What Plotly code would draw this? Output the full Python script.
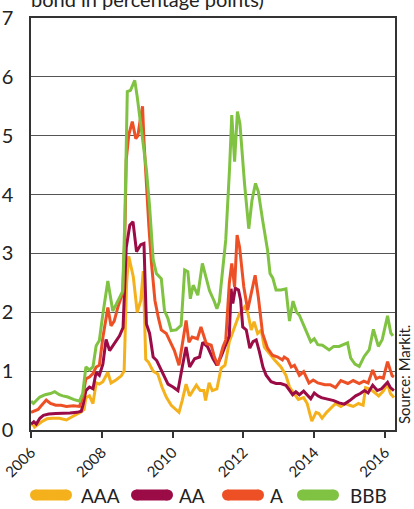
import plotly.graph_objects as go

# ---- data (decimal years, spread in percentage points) ----
aaa_t = [2006.0, 2006.05, 2006.1, 2006.2, 2006.3, 2006.45, 2006.6, 2006.8, 2007.0, 2007.15, 2007.3, 2007.4,
         2007.5, 2007.55, 2007.65, 2007.75, 2007.84, 2007.93, 2008.03, 2008.17, 2008.26, 2008.4, 2008.55, 2008.63,
         2008.7, 2008.76, 2008.89, 2009.0, 2009.1, 2009.17, 2009.24, 2009.32, 2009.45, 2009.58, 2009.7, 2009.82,
         2009.96, 2010.1, 2010.18, 2010.27, 2010.38, 2010.48, 2010.6, 2010.67, 2010.78, 2010.88, 2010.93, 2011.03,
         2011.12, 2011.25, 2011.37, 2011.48, 2011.6, 2011.75, 2011.89, 2012.03, 2012.12, 2012.22, 2012.3, 2012.4,
         2012.5, 2012.59, 2012.73, 2012.88, 2013.06, 2013.2, 2013.3, 2013.42, 2013.55, 2013.7, 2013.8, 2013.93,
         2014.05, 2014.13, 2014.22, 2014.35, 2014.5, 2014.6, 2014.75, 2014.88, 2015.0, 2015.1, 2015.25, 2015.38,
         2015.45, 2015.55, 2015.68, 2015.82, 2015.95, 2016.07, 2016.15, 2016.25]
aaa_v = [0.08, 0.1, 0.05, 0.1, 0.14, 0.19, 0.2, 0.2, 0.17, 0.22, 0.27, 0.3,
         0.35, 0.55, 0.58, 0.45, 0.8, 0.78, 0.82, 0.98, 0.8, 0.85, 0.92, 1.0,
         2.5, 2.95, 2.6, 2.0, 2.2, 2.7, 1.2, 1.15, 1.0, 0.95, 0.73, 0.56,
         0.42, 0.35, 0.3, 0.5, 0.78, 0.58, 0.7, 0.76, 0.67, 0.67, 0.5, 0.8,
         0.67, 0.7, 1.05, 1.1, 1.5, 1.75, 1.98, 2.09, 2.0, 1.7, 1.84, 1.64,
         1.7, 1.41, 1.3, 1.19, 1.07, 0.93, 0.73, 0.62, 0.52, 0.55, 0.45, 0.15,
         0.3, 0.28, 0.2, 0.3, 0.38, 0.45, 0.4, 0.45, 0.42, 0.4, 0.45, 0.42,
         0.72, 0.7, 0.65, 0.58, 0.66, 0.78, 0.62, 0.55]

aa_t = [2006.0, 2006.08, 2006.15, 2006.25, 2006.35, 2006.5, 2006.7, 2006.9, 2007.1, 2007.3, 2007.42, 2007.48,
        2007.55, 2007.65, 2007.75, 2007.84, 2007.93, 2008.03, 2008.12, 2008.22, 2008.3, 2008.4, 2008.5, 2008.6,
        2008.69, 2008.79, 2008.88, 2008.98, 2009.1, 2009.19, 2009.26, 2009.35, 2009.45, 2009.55, 2009.68, 2009.77,
        2009.87, 2010.01, 2010.15, 2010.29, 2010.38, 2010.48, 2010.62, 2010.76, 2010.85, 2010.99, 2011.14, 2011.25,
        2011.37, 2011.5, 2011.6, 2011.65, 2011.7, 2011.77, 2011.86, 2011.92, 2011.98, 2012.08, 2012.18, 2012.27,
        2012.36, 2012.45, 2012.55, 2012.64, 2012.78, 2012.92, 2013.05, 2013.2, 2013.3, 2013.39, 2013.48, 2013.58,
        2013.7, 2013.8, 2013.9, 2014.0, 2014.1, 2014.2, 2014.4, 2014.55, 2014.7, 2014.85, 2015.0, 2015.17,
        2015.3, 2015.42, 2015.52, 2015.65, 2015.78, 2015.9, 2016.07, 2016.15, 2016.25]
aa_v = [0.1, 0.14, 0.1, 0.2, 0.25, 0.27, 0.28, 0.28, 0.29, 0.3, 0.32, 0.45,
        0.67, 0.73, 0.7, 0.98, 0.93, 1.12, 1.54, 1.35, 1.42, 1.52, 1.6, 1.74,
        3.1, 3.48, 3.54, 3.03, 3.15, 3.17, 1.8, 1.64, 1.24, 1.18, 1.01, 0.9,
        0.78, 0.73, 0.67, 1.13, 1.41, 1.07, 1.21, 1.24, 1.49, 1.41, 1.21, 1.1,
        1.25, 1.45, 1.6, 2.4, 2.15, 2.41, 2.38, 2.21, 1.75, 1.7, 1.39, 1.5,
        1.53, 1.33, 1.07, 0.93, 0.82, 0.79, 0.79, 0.76, 0.67, 0.6, 0.65, 0.6,
        0.66, 0.6, 0.53, 0.63, 0.58, 0.55, 0.52, 0.5, 0.46, 0.44, 0.5, 0.58,
        0.62, 0.67, 0.63, 0.76, 0.67, 0.7, 0.81, 0.72, 0.67]

a_t = [2006.0, 2006.1, 2006.2, 2006.3, 2006.43, 2006.55, 2006.7, 2006.85, 2007.0, 2007.2, 2007.37, 2007.46,
       2007.55, 2007.65, 2007.75, 2007.84, 2007.93, 2008.03, 2008.17, 2008.26, 2008.35, 2008.45, 2008.59, 2008.65,
       2008.69, 2008.76, 2008.86, 2008.96, 2009.02, 2009.07, 2009.15, 2009.19, 2009.26, 2009.33, 2009.4, 2009.5,
       2009.6, 2009.68, 2009.82, 2009.96, 2010.05, 2010.18, 2010.27, 2010.38, 2010.46, 2010.55, 2010.7, 2010.8,
       2010.95, 2011.09, 2011.18, 2011.28, 2011.42, 2011.5, 2011.6, 2011.67, 2011.75, 2011.82, 2011.89, 2012.01,
       2012.12, 2012.24, 2012.33, 2012.42, 2012.54, 2012.68, 2012.82, 2012.97, 2013.1, 2013.15, 2013.25, 2013.35,
       2013.44, 2013.58, 2013.7, 2013.85, 2013.97, 2014.1, 2014.3, 2014.45, 2014.6, 2014.75, 2014.95, 2015.1,
       2015.27, 2015.4, 2015.52, 2015.65, 2015.75, 2015.85, 2015.95, 2016.07, 2016.2, 2016.25]
a_v = [0.3, 0.33, 0.35, 0.42, 0.51, 0.45, 0.42, 0.42, 0.4, 0.41, 0.4, 0.56,
       0.87, 0.9, 0.96, 1.07, 1.1, 1.57, 2.08, 1.77, 1.85, 2.08, 2.33, 3.3,
       4.59, 5.01, 5.24, 4.95, 5.0, 5.21, 5.5, 4.92, 4.13, 3.45, 2.85, 2.2,
       1.9, 1.7, 1.64, 1.47, 1.35, 1.1, 1.47, 1.86, 1.49, 1.58, 1.55, 1.75,
       1.47, 1.44, 1.24, 1.1, 1.41, 1.53, 2.49, 2.83, 2.43, 3.31, 3.11, 2.43,
       2.04, 2.38, 2.63, 2.26, 1.64, 1.39, 1.27, 1.24, 1.19, 1.24, 1.2, 1.07,
       1.1, 0.93, 0.99, 0.8, 0.85, 0.8, 0.77, 0.77, 0.72, 0.84, 0.79, 0.84,
       0.79, 0.83, 0.8, 1.02, 0.87, 0.9, 0.88, 1.16, 0.92, 0.9]

bbb_t = [2006.0, 2006.07, 2006.15, 2006.25, 2006.4, 2006.55, 2006.67, 2006.8, 2006.9, 2007.04, 2007.2, 2007.37,
         2007.46, 2007.55, 2007.65, 2007.75, 2007.84, 2007.93, 2008.03, 2008.17, 2008.31, 2008.4, 2008.5, 2008.59,
         2008.65, 2008.72, 2008.81, 2008.93, 2009.0, 2009.07, 2009.16, 2009.26, 2009.35, 2009.45, 2009.54, 2009.68,
         2009.77, 2009.87, 2009.96, 2010.1, 2010.24, 2010.34, 2010.43, 2010.5, 2010.58, 2010.71, 2010.84, 2010.93,
         2011.04, 2011.18, 2011.25, 2011.32, 2011.41, 2011.5, 2011.61, 2011.67, 2011.75, 2011.83, 2011.9, 2012.03,
         2012.15, 2012.24, 2012.34, 2012.42, 2012.54, 2012.68, 2012.75, 2012.83, 2012.92, 2013.06, 2013.2, 2013.3,
         2013.4, 2013.5, 2013.58, 2013.75, 2013.9, 2014.0, 2014.1, 2014.23, 2014.42, 2014.55, 2014.7, 2014.94,
         2015.03, 2015.15, 2015.27, 2015.41, 2015.55, 2015.67, 2015.81, 2015.92, 2016.07, 2016.16, 2016.22]
bbb_v = [0.49, 0.45, 0.5, 0.56, 0.6, 0.62, 0.65, 0.6, 0.58, 0.56, 0.52, 0.49,
         0.62, 1.07, 1.02, 1.07, 1.43, 1.52, 1.97, 2.53, 2.02, 2.13, 2.25, 2.36,
         3.57, 5.75, 5.77, 5.94, 5.66, 5.32, 4.92, 4.42, 3.79, 2.9, 2.66, 2.57,
         2.03, 1.89, 1.69, 1.7, 1.78, 2.72, 2.69, 2.23, 2.46, 2.29, 2.83, 2.6,
         2.37, 2.18, 2.06, 2.18, 2.77, 3.23, 4.47, 5.35, 4.56, 5.41, 5.21, 4.19,
         3.42, 3.9, 4.19, 4.05, 3.57, 3.06, 2.66, 2.58, 2.38, 2.38, 2.4, 1.85,
         2.19, 2.0, 1.95, 1.7, 1.5, 1.55, 1.45, 1.44, 1.36, 1.42, 1.42, 1.48,
         1.22, 1.12, 1.08, 1.25, 1.36, 1.71, 1.42, 1.54, 1.94, 1.65, 1.6]

series_names = ["AAA", "AA", "A", "BBB"]
series_colors = ["#F4B11C", "#9B0B46", "#EE5026", "#80C242"]
x_ticks = [2006, 2008, 2010, 2012, 2014, 2016]
y_ticks = [0, 1, 2, 3, 4, 5, 6, 7]

FONT = "Lato, 'Noto Sans', sans-serif"
TXT = "#222222"

# figure geometry (pixels)
W, H = 414, 509
ML, MR, MT, MB = 31, 19, 18, 79
PW, PH = W - ML - MR, H - MT - MB


def px_x(p):
    return (p - ML) / PW


def px_y(p):
    return (H - MB - p) / PH


fig = go.Figure()
for name, color, t, v in zip(series_names, series_colors,
                             [aaa_t, aa_t, a_t, bbb_t], [aaa_v, aa_v, a_v, bbb_v]):
    fig.add_trace(go.Scatter(x=t, y=v, mode="lines", name=name,
                             line=dict(color=color, width=3), showlegend=False))

# manual legend: rounded thick swatches + labels
leg_y = px_y(495)
swatch_left = [30, 131, 222, 297]
swatch_len = 42
label_left = [79, 177, 268, 348]
shapes = []
annotations = []
r = 5.5
for name, color, sx, lx in zip(series_names, series_colors, swatch_left, label_left):
    cx = px_x(sx + swatch_len / 2)
    half = swatch_len / 2
    shapes.append(dict(type="rect", xref="paper", yref="paper", xsizemode="pixel", ysizemode="pixel",
                       xanchor=cx, yanchor=leg_y, x0=-half + r, x1=half - r, y0=-r, y1=r,
                       fillcolor=color, line=dict(width=0)))
    for end in (-half + r, half - r):
        shapes.append(dict(type="circle", xref="paper", yref="paper", xsizemode="pixel", ysizemode="pixel",
                           xanchor=cx, yanchor=leg_y, x0=end - r, x1=end + r, y0=-r, y1=r,
                           fillcolor=color, line=dict(width=0)))
    annotations.append(dict(text=name, xref="paper", yref="paper", x=px_x(lx), y=leg_y,
                            xanchor="left", yanchor="middle", showarrow=False,
                            font=dict(size=19, color=TXT)))

annotations.append(dict(text="bond in percentage points)", xref="paper", yref="paper",
                        x=px_x(29), y=px_y(-1), xanchor="left", yanchor="middle", showarrow=False,
                        font=dict(size=20, color=TXT)))
annotations.append(dict(text="Source: Markit.", xref="paper", yref="paper",
                        x=px_x(404), y=px_y(374), xanchor="center", yanchor="middle", textangle=-90,
                        showarrow=False, font=dict(size=15, color=TXT)))

fig.update_layout(
    width=W, height=H,
    margin=dict(l=ML, r=MR, t=MT, b=MB, autoexpand=False),
    paper_bgcolor="white", plot_bgcolor="white",
    font=dict(family=FONT, color=TXT),
    showlegend=False,
    xaxis=dict(range=[2006, 2016.28], tickvals=x_ticks, ticktext=[str(v) for v in x_ticks],
               tickangle=-45, tickfont=dict(size=15), ticks="outside", ticklen=6,
               tickcolor="#333333", tickwidth=1.5, showgrid=False, zeroline=False,
               ticklabeloverflow="allow",
               showline=True, linecolor="#333333", linewidth=1.5, mirror=True, automargin=False),
    yaxis=dict(range=[0, 7], tickvals=y_ticks, ticktext=[str(v) for v in y_ticks],
               tickfont=dict(size=20), ticks="outside", ticklen=12,
               tickcolor="rgba(0,0,0,0)", showgrid=True, gridcolor="#555555", gridwidth=1.2,
               zeroline=False, showline=True, linecolor="#333333", linewidth=1.5, mirror=True,
               automargin=False),
    shapes=shapes,
    annotations=annotations,
)

fig.write_html("out.html", config={"displayModeBar": False},
               post_script="document.body.style.margin='0';document.body.style.overflow='hidden';")
